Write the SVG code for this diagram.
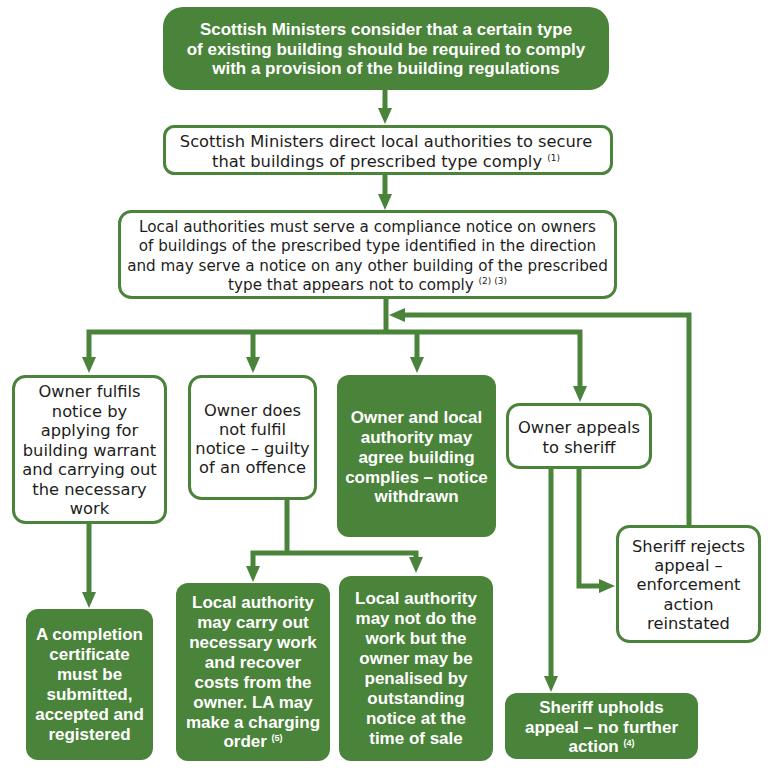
<svg xmlns="http://www.w3.org/2000/svg" width="769" height="770" viewBox="0 0 769 770">
<style>
.box{fill:#fff;stroke:#4a833a;stroke-width:3}
.fill{fill:#4a833a}
.t{font-family:"DejaVu Sans","Liberation Sans",sans-serif;font-size:16.3px;fill:#1d1d1b;text-anchor:middle}
.s{font-size:15.2px}
.w{font-family:"Liberation Sans",Arial,sans-serif;font-size:17px;font-weight:bold;fill:#fff;text-anchor:middle}
.sup{font-size:9px}
.c{fill:none;stroke:#4a833a;stroke-width:5}
</style>
<defs>
<marker id="ah" markerWidth="16" markerHeight="14" refX="0" refY="7" orient="auto-start-reverse" markerUnits="userSpaceOnUse"><path d="M0,0 L16,7 L0,14 Z" fill="#4a833a"/></marker>
</defs>
<rect width="769" height="770" fill="#fff"/>
<g id="connectors">
<path class="c" d="M385,90 V108" marker-end="url(#ah)"/>
<path class="c" d="M385,175 V194" marker-end="url(#ah)"/>
<path class="c" d="M386,299 V332"/>
<path class="c" d="M89,357 V332 H580 V386" marker-start="url(#ah)" marker-end="url(#ah)"/>
<path class="c" d="M253,332 V357" marker-end="url(#ah)"/>
<path class="c" d="M417,332 V357" marker-end="url(#ah)"/>
<path class="c" d="M689,525 V315 H405" marker-end="url(#ah)"/>
<path class="c" d="M89,524 V592" marker-end="url(#ah)"/>
<path class="c" d="M287,500 V553"/>
<path class="c" d="M253,566 V553 H416 V557" marker-start="url(#ah)" marker-end="url(#ah)"/>
<path class="c" d="M579,469 V586 H599" marker-end="url(#ah)"/>
<path class="c" d="M551,469 V676" marker-end="url(#ah)"/>
</g>
<g id="n1">
<rect class="fill" x="163" y="7" width="446" height="83" rx="20"/>
<text class="w" x="386" y="35">Scottish Ministers consider that a certain type</text>
<text class="w" x="386" y="54.5">of existing building should be required to comply</text>
<text class="w" x="386" y="74">with a provision of the building regulations</text>
</g>
<g id="n2">
<rect class="box" x="164.5" y="126.5" width="447" height="47" rx="10"/>
<text class="t" x="386" y="147">Scottish Ministers direct local authorities to secure</text>
<text class="t" x="386" y="167">that buildings of prescribed type comply <tspan class="sup" dy="-6">(1)</tspan></text>
</g>
<g id="n3">
<rect class="box" x="119.5" y="211.5" width="496" height="86" rx="12"/>
<text class="t s" x="367.5" y="232">Local authorities must serve a compliance notice on owners</text>
<text class="t s" x="367.5" y="251">of buildings of the prescribed type identified in the direction</text>
<text class="t s" x="367.5" y="270.5">and may serve a notice on any other building of the prescribed</text>
<text class="t s" x="367.5" y="290">type that appears not to comply <tspan class="sup" dy="-6">(2) (3)</tspan></text>
</g>
<g id="n4">
<rect class="box" x="13.5" y="376.5" width="152" height="146" rx="12"/>
<text class="t" x="89.5" y="397">Owner fulfils</text>
<text class="t" x="89.5" y="417">notice by</text>
<text class="t" x="89.5" y="436">applying for</text>
<text class="t" x="89.5" y="456">building warrant</text>
<text class="t" x="89.5" y="475">and carrying out</text>
<text class="t" x="89.5" y="495">the necessary</text>
<text class="t" x="89.5" y="514">work</text>
</g>
<g id="n5">
<rect class="box" x="189.5" y="376.5" width="126" height="122" rx="12"/>
<text class="t" x="252.5" y="416">Owner does</text>
<text class="t" x="252.5" y="435">not fulfil</text>
<text class="t" x="252.5" y="454">notice – guilty</text>
<text class="t" x="252.5" y="473">of an offence</text>
</g>
<g id="n6">
<rect class="fill" x="337" y="375" width="159" height="162" rx="12"/>
<text class="w" x="416.5" y="423">Owner and local</text>
<text class="w" x="416.5" y="443">authority may</text>
<text class="w" x="416.5" y="462.5">agree building</text>
<text class="w" x="416.5" y="482.5">complies – notice</text>
<text class="w" x="416.5" y="502">withdrawn</text>
</g>
<g id="n7">
<rect class="box" x="507.5" y="404.5" width="143" height="63" rx="12"/>
<text class="t" x="579" y="433">Owner appeals</text>
<text class="t" x="579" y="453">to sheriff</text>
</g>
<g id="n8">
<rect class="box" x="617.5" y="526.5" width="142" height="115" rx="12"/>
<text class="t" x="688.5" y="552">Sheriff rejects</text>
<text class="t" x="688.5" y="571">appeal –</text>
<text class="t" x="688.5" y="590">enforcement</text>
<text class="t" x="688.5" y="609.5">action</text>
<text class="t" x="688.5" y="629">reinstated</text>
</g>
<g id="n9">
<rect class="fill" x="505" y="693" width="193" height="66" rx="12"/>
<text class="w" x="601.5" y="713">Sheriff upholds</text>
<text class="w" x="601.5" y="732.5">appeal – no further</text>
<text class="w" x="601.5" y="752">action <tspan class="sup" dy="-6">(4)</tspan></text>
</g>
<g id="n10">
<rect class="fill" x="26" y="609" width="127" height="151" rx="12"/>
<text class="w" x="89.5" y="640">A completion</text>
<text class="w" x="89.5" y="660">certificate</text>
<text class="w" x="89.5" y="680">must be</text>
<text class="w" x="89.5" y="700">submitted,</text>
<text class="w" x="89.5" y="720">accepted and</text>
<text class="w" x="89.5" y="740">registered</text>
</g>
<g id="n11">
<rect class="fill" x="176" y="583" width="154" height="178" rx="12"/>
<text class="w" x="253" y="608">Local authority</text>
<text class="w" x="253" y="628">may carry out</text>
<text class="w" x="253" y="648">necessary work</text>
<text class="w" x="253" y="668">and recover</text>
<text class="w" x="253" y="688">costs from the</text>
<text class="w" x="253" y="708">owner. LA may</text>
<text class="w" x="253" y="727.5">make a charging</text>
<text class="w" x="253" y="747">order <tspan class="sup" dy="-6">(5)</tspan></text>
</g>
<g id="n12">
<rect class="fill" x="339" y="576" width="154" height="185" rx="12"/>
<text class="w" x="416" y="604">Local authority</text>
<text class="w" x="416" y="624">may not do the</text>
<text class="w" x="416" y="644">work but the</text>
<text class="w" x="416" y="664">owner may be</text>
<text class="w" x="416" y="684">penalised by</text>
<text class="w" x="416" y="704">outstanding</text>
<text class="w" x="416" y="724">notice at the</text>
<text class="w" x="416" y="744">time of sale</text>
</g>
</svg>
